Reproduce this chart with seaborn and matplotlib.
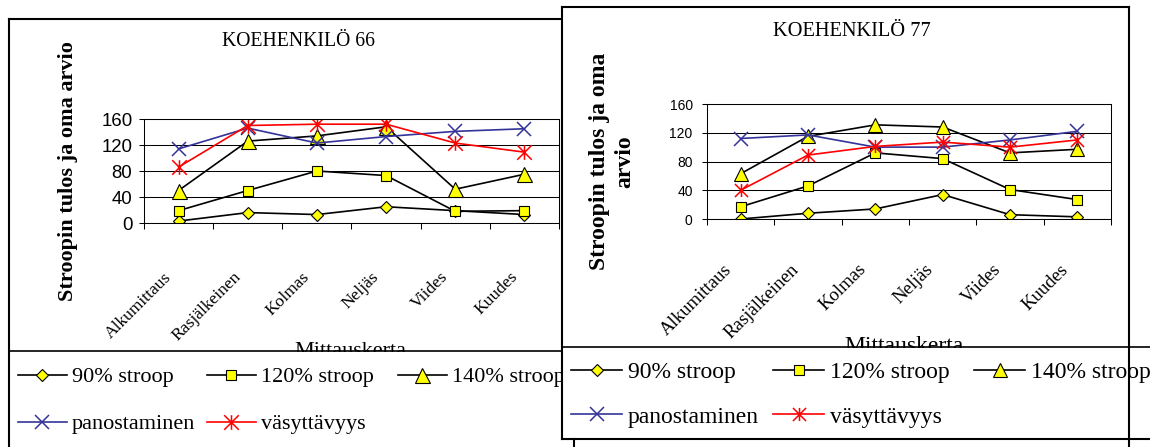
import numpy as np
import pandas as pd
import matplotlib
matplotlib.use("Agg")
import matplotlib.pyplot as plt
import seaborn as sns
from matplotlib.lines import Line2D
from matplotlib.patches import Rectangle
from matplotlib.path import Path
from matplotlib.transforms import ScaledTranslation

# ---------------- data ----------------
categories = ["Alkumittaus", "Rasjälkeinen", "Kolmas", "Neljäs", "Viides", "Kuudes"]
series_names = ["90% stroop", "120% stroop", "140% stroop", "panostaminen", "väsyttävyys"]

k66_90 = [3, 16, 13, 25, 19, 13]
k66_120 = [19, 50, 80, 73, 18, 19]
k66_140 = [50, 126, 134, 148, 52, 75]
k66_pan = [114, 146, 123, 133, 141, 145]
k66_vas = [86, 150, 152, 152, 123, 109]

k77_90 = [0, 8, 14, 34, 6, 3]
k77_120 = [17, 46, 92, 84, 41, 27]
k77_140 = [63, 115, 131, 128, 92, 97]
k77_pan = [112, 117, 100, 100, 110, 122]
k77_vas = [40, 89, 101, 107, 100, 110]

y_ticks = [0, 40, 80, 120, 160]
title_66 = "KOEHENKILÖ 66"
title_77 = "KOEHENKILÖ 77"
ylabel_66 = "Stroopin tulos ja oma arvio"
ylabel_77 = "Stroopin tulos ja oma\narvio"
xlabel = "Mittauskerta"

# ---------------- style ----------------
plt.rcParams["font.family"] = ["Liberation Serif", "DejaVu Serif"]
plt.rcParams["axes.linewidth"] = 0.75

W, H = 1150, 447
fig = plt.figure(figsize=(W / 100, H / 100), dpi=100)
fig.patch.set_facecolor("white")


def fx(x):
    return x / W


def fy(y):
    return 1 - y / H


def rect(x0, y0, x1, y1):
    return [fx(x0), fy(y1), (x1 - x0) / W, (y1 - y0) / H]


def line(x0, y0, x1, y1, lw, z, color="black"):
    fig.add_artist(Line2D([fx(x0), fx(x1)], [fy(y0), fy(y1)], transform=fig.transFigure,
                          color=color, lw=lw, zorder=z, solid_capstyle="projecting"))


def white_box(x0, y0, x1, y1, z):
    fig.add_artist(Rectangle((fx(x0), fy(y1)), (x1 - x0) / W, (y1 - y0) / H,
                             transform=fig.transFigure, facecolor="white",
                             edgecolor="none", zorder=z))


YEL = "#FFFF00"
BLUE = "#333399"
RED = "#FF0000"
star = Path([(-1, -1), (1, 1), (-1, 1), (1, -1), (0, -1), (0, 1)],
            [Path.MOVETO, Path.LINETO] * 3)

styles = {
    "90% stroop": dict(color="black", marker="D", markersize=6.4, markerfacecolor=YEL,
                       markeredgecolor="black", markeredgewidth=0.8),
    "120% stroop": dict(color="black", marker="s", markersize=7.6, markerfacecolor=YEL,
                        markeredgecolor="black", markeredgewidth=0.8),
    "140% stroop": dict(color="black", marker="^", markersize=10.8, markerfacecolor=YEL,
                        markeredgecolor="black", markeredgewidth=0.8),
    "panostaminen": dict(color=BLUE, marker="x", markersize=10.5, markeredgecolor=BLUE,
                         markeredgewidth=1.1),
    "väsyttävyys": dict(color=RED, marker=star, markersize=10.5, markerfacecolor="none",
                        markeredgecolor=RED, markeredgewidth=1.1),
}


def draw_chart(ax, values, cfg):
    rows = []
    for name, vals in zip(series_names, values):
        for i, (c, v) in enumerate(zip(categories, vals)):
            rows.append(dict(sarja=name, kohta=i, Mittauskerta=c, arvo=v))
    df = pd.DataFrame(rows)
    for name in series_names:
        st = dict(styles[name])
        st["markersize"] = st["markersize"] * cfg["ms"]
        sns.lineplot(data=df[df.sarja == name], x="kohta", y="arvo", ax=ax, sort=False,
                     errorbar=None, legend=False, label=name, lw=1.2, **st)
    ax.set_xlim(-0.5, len(categories) - 0.5)
    ax.set_ylim(0, 160)
    ax.set_yticks(y_ticks, labels=[str(t) for t in y_ticks],
                  fontfamily="Liberation Sans", fontsize=cfg["yfs"])
    ax.set_xticks(range(len(categories)), labels=categories, rotation=45, ha="right",
                  va="top", rotation_mode="anchor", fontsize=cfg["xfs"])
    ax.set_xticks(np.arange(-0.5, len(categories), 1), minor=True)
    ax.tick_params(axis="x", which="major", length=0, pad=0)
    ax.tick_params(axis="x", which="minor", length=4.5, width=0.75, direction="out",
                   color="black")
    ax.tick_params(axis="y", which="major", length=3.8, width=0.75, direction="out",
                   color="black", pad=cfg["ypad"])
    ax.grid(axis="y", color="black", lw=0.75)
    ax.grid(axis="x", visible=False)
    for sp in ax.spines.values():
        sp.set_color("black")
        sp.set_linewidth(0.75)
    off = ScaledTranslation(cfg["ldx"] / 100, -cfg["ldy"] / 100, fig.dpi_scale_trans)
    for lab in ax.get_xticklabels():
        lab.set_transform(lab.get_transform() + off)
    ax.set_ylabel(cfg["ylabel"], fontweight="bold", fontsize=cfg["ylfs"], va="center",
                  ha="center", linespacing=1.3)
    ax.yaxis.set_label_coords(cfg["ylx"], 0.5)
    ax.set_xlabel(xlabel, fontsize=cfg["xlfs"], va="top")
    ax.xaxis.set_label_coords(cfg["xlx"], cfg["xly"])


def legend_entries(ax, xs, ys, fs, hl, tp, z):
    handles = ax.get_lines()[:len(series_names)]
    pos = [(xs[0], ys[0]), (xs[1], ys[0]), (xs[2], ys[0]), (xs[0], ys[1]), (xs[1], ys[1])]
    for h, (x, y) in zip(handles, pos):
        leg = fig.legend(handles=[h], labels=[h.get_label()], loc="center left",
                         bbox_to_anchor=(fx(x), fy(y)), frameon=False, borderpad=0,
                         borderaxespad=0, handlelength=hl, handletextpad=tp, numpoints=1,
                         prop={"family": "Liberation Serif", "size": fs})
        leg.set_zorder(z)


# ---------------- chart 66 (behind) ----------------
ax1 = fig.add_axes(rect(144, 119, 559, 223))
ax1.set_zorder(1)
draw_chart(ax1, [k66_90, k66_120, k66_140, k66_pan, k66_vas],
           dict(ms=1.0, yfs=13.4, ypad=4.5, xfs=12.6, ldx=-15, ldy=46, ylabel=ylabel_66,
                ylfs=16, ylx=(68 - 144) / 415, xlfs=16, xlx=(350 - 144) / 415,
                xly=(223 - 342) / 104))
t = fig.text(fx(298), fy(42), title_66, ha="center", va="center", fontsize=14.2)
t.set_zorder(1)
white_box(10, 352, 561, 447, 2)
line(9, 19, 562, 19, 1.5, 2.1)
line(9, 19, 9, 447, 1.5, 2.1)
line(9, 351, 562, 351, 1.2, 2.1)
legend_entries(ax1, [18, 207, 398], [377, 424], 16, 2.2, 0.23, 2.5)

# ---------------- chart 77 (front) ----------------
white_box(562, 7, 1129, 439, 3)
ax2 = fig.add_axes(rect(707, 104, 1111, 219))
ax2.set_zorder(4)
draw_chart(ax2, [k77_90, k77_120, k77_140, k77_pan, k77_vas],
           dict(ms=0.9, yfs=10, ypad=6.5, xfs=13.5, ldx=-18, ldy=42, ylabel=ylabel_77,
                ylfs=17, ylx=(612 - 707) / 404, xlfs=17, xlx=(904 - 707) / 404,
                xly=(219 - 336) / 115))
t = fig.text(fx(852), fy(32), title_77, ha="center", va="center", fontsize=14.7)
t.set_zorder(4)
white_box(563, 348, 1129, 438, 4.5)
legend_entries(ax2, [571, 773, 974], [372, 417], 17, 2.16, 0.25, 5)

# frame lines on top
line(562, 7, 1129, 7, 1.5, 6)
line(562, 7, 562, 439, 1.5, 6)
line(562, 439, 1150, 439, 1.5, 6)
line(562, 347, 1150, 347, 1.2, 6)
line(1129, 7, 1129, 447, 1.5, 6)
line(574, 439, 574, 447, 1.5, 6)

fig.savefig("out.png", dpi=100, facecolor="white")
